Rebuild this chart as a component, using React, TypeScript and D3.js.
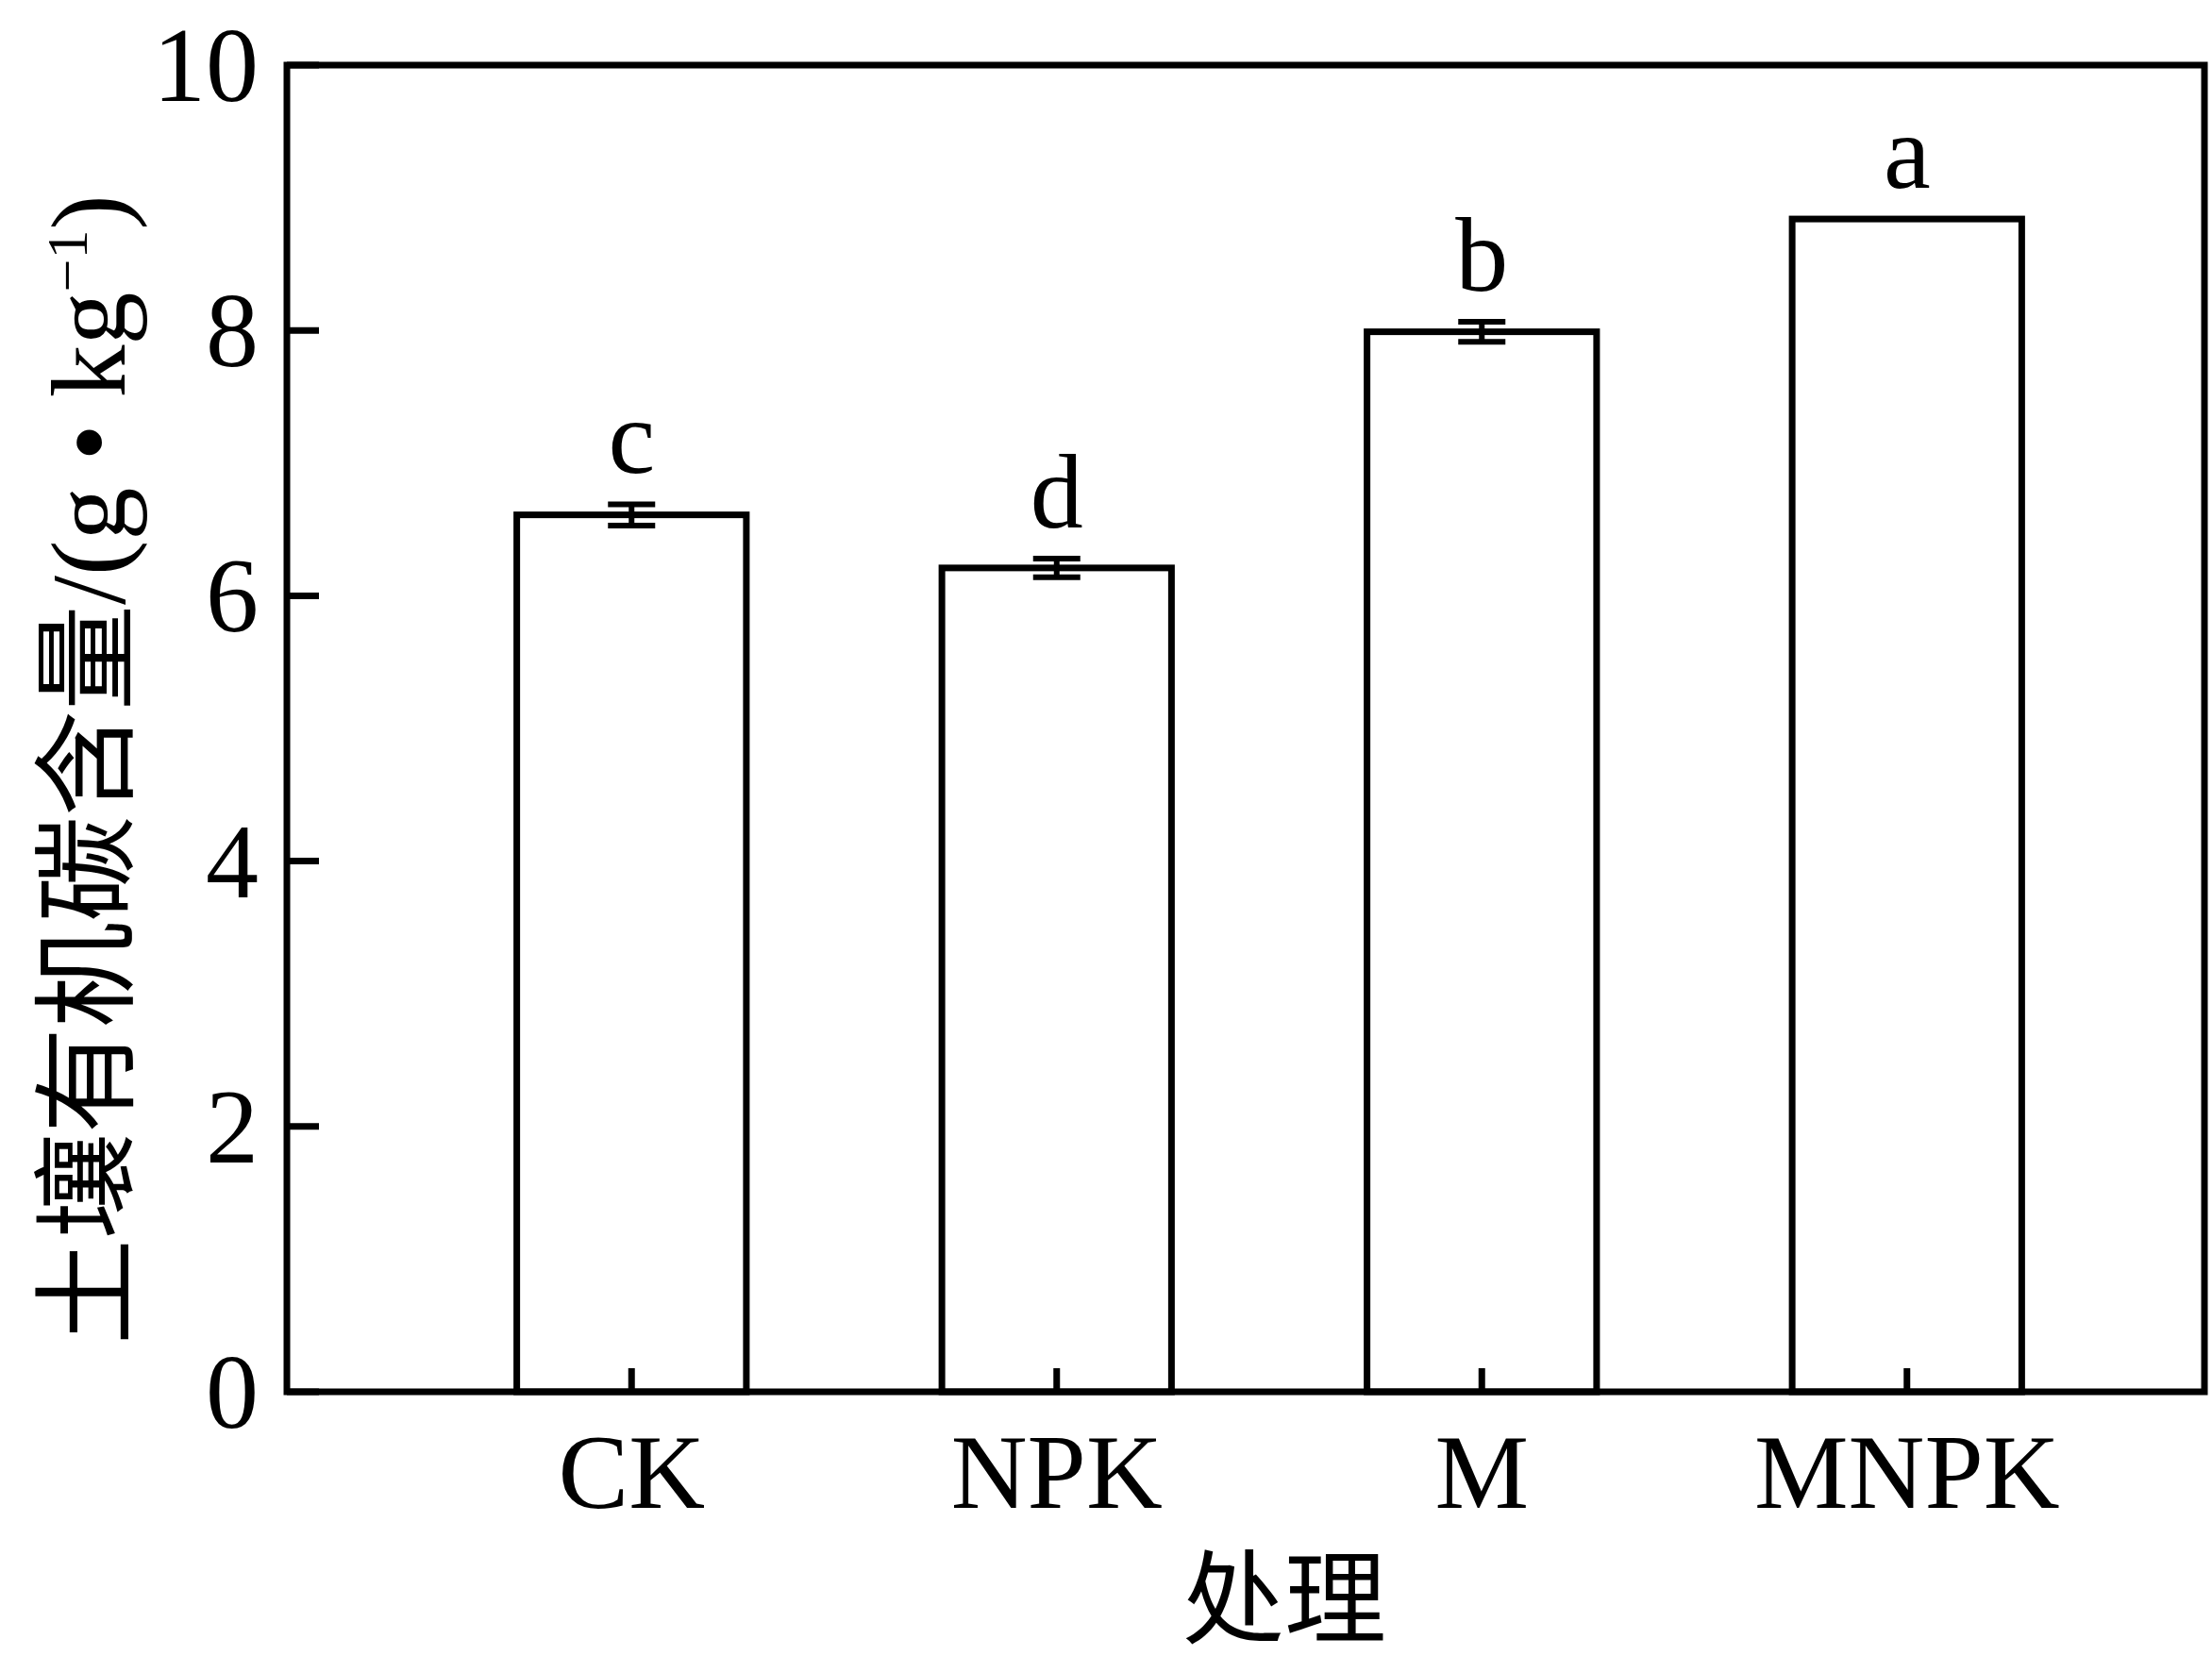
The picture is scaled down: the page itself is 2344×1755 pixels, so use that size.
import { scaleBand, scaleLinear } from "d3";

// 处理 categories and 土壤有机碳含量 (g·kg⁻¹)
const treatments = ["CK", "NPK", "M", "MNPK"];
const socMeans = [6.61, 6.21, 7.99, 8.84];
const socErrors = [0.08, 0.07, 0.075, 0];
const sigLetters = ["c", "d", "b", "a"];
const yTicks = [0, 2, 4, 6, 8, 10];

const W = 2344;
const H = 1755;
const serif = "'Liberation Serif', 'Times New Roman', 'Noto Sans CJK SC', serif";

export default function App() {
  const left = 304;
  const right = 2336;
  const top = 69;
  const bottom = 1475;

  const y = scaleLinear().domain([0, 10]).range([bottom, top]);
  const x = scaleBand<string>()
    .domain(treatments)
    .range([444, 2246])
    .paddingInner(0.46)
    .paddingOuter(0.23);

  const bw = x.bandwidth();
  const sw = 7;

  return (
    <svg
      width={W}
      height={H}
      viewBox={`0 0 ${W} ${H}`}
      style={{ position: "absolute", left: 0, top: 0, background: "#fff" }}
      fontFamily={serif}
    >
      <rect x={0} y={0} width={W} height={H} fill="#fff" />

      {/* Bars */}
      {treatments.map((t, i) => {
        const x0 = x(t)!;
        const cx = x0 + bw / 2;
        const vTop = y(socMeans[i]);
        const errTop = y(socMeans[i] + socErrors[i]);
        const errBot = y(socMeans[i] - socErrors[i]);
        return (
          <g key={t}>
            <rect
              x={x0}
              y={vTop}
              width={bw}
              height={bottom - vTop}
              fill="#fff"
              stroke="#000"
              strokeWidth={sw}
            />
            {socErrors[i] > 0 && (
              <g stroke="#000" strokeWidth={6}>
                <line x1={cx} x2={cx} y1={errTop} y2={errBot} />
                <line x1={cx - 25} x2={cx + 25} y1={errTop} y2={errTop} />
                <line x1={cx - 25} x2={cx + 25} y1={errBot} y2={errBot} />
              </g>
            )}
            <text
              x={cx}
              y={errTop - 33}
              textAnchor="middle"
              fontSize={112}
            >
              {sigLetters[i]}
            </text>
          </g>
        );
      })}

      {/* Frame */}
      <rect
        x={left}
        y={top}
        width={right - left}
        height={bottom - top}
        fill="none"
        stroke="#000"
        strokeWidth={sw}
      />

      {/* Y axis ticks */}
      {yTicks.map((v) => (
        <g key={v}>
          <line x1={left} x2={left + 34} y1={y(v)} y2={y(v)} stroke="#000" strokeWidth={sw} />
          <text x={left - 30} y={y(v) + 38} textAnchor="end" fontSize={112}>
            {v}
          </text>
        </g>
      ))}

      {/* X axis ticks */}
      {treatments.map((t) => {
        const cx = x(t)! + bw / 2;
        return (
          <g key={t}>
            <line x1={cx} x2={cx} y1={bottom} y2={bottom - 25} stroke="#000" strokeWidth={sw} />
            <text x={cx} y={bottom + 123} textAnchor="middle" fontSize={112}>
              {t}
            </text>
          </g>
        );
      })}

      {/* Axis titles */}
      <text x={1361} y={1733} textAnchor="middle" fontSize={108}>
        处理
      </text>
      <text
        transform="translate(132,1425) rotate(-90)"
        textAnchor="start"
        fontSize={112}
      >
        土壤有机碳含量/(g • kg
        <tspan fontSize={62} dy={-40}>−1</tspan>
        <tspan dy={40}>)</tspan>
      </text>
    </svg>
  );
}
